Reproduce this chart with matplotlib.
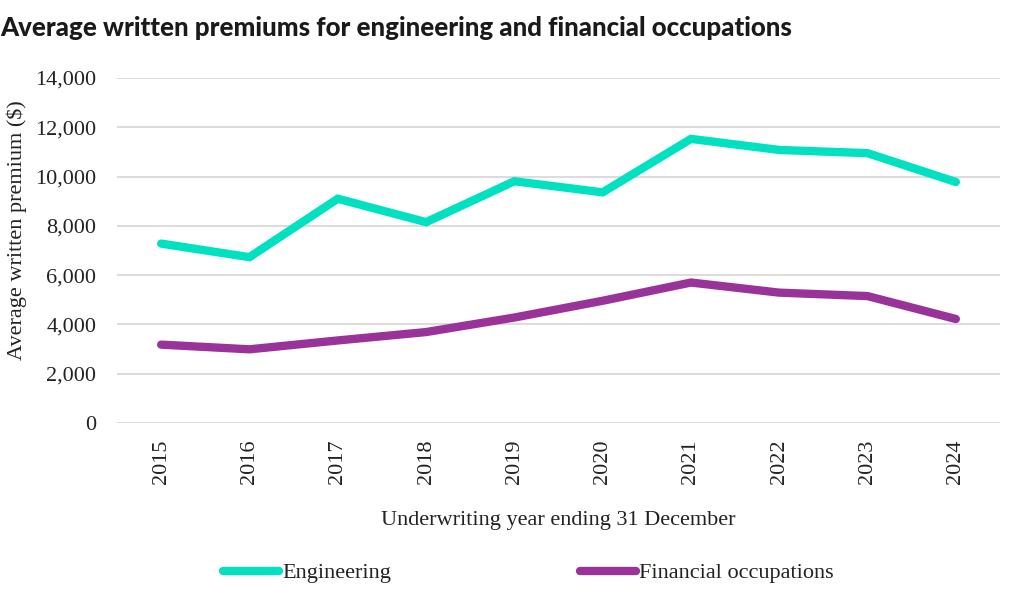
import matplotlib.pyplot as plt
from matplotlib.ticker import FuncFormatter

years = ['2015', '2016', '2017', '2018', '2019', '2020', '2021', '2022', '2023', '2024']
engineering = [7280, 6730, 9100, 8150, 9810, 9360, 11530, 11080, 10950, 9780]
financial = [3180, 2990, 3350, 3690, 4280, 4960, 5700, 5290, 5150, 4220]

teal = '#00e1c1'
purple = '#993399'
serif = ['Liberation Serif', 'DejaVu Serif']

fig = plt.figure(figsize=(10.24, 5.91), dpi=100)
ax = fig.add_axes([117 / 1024, 1 - 423 / 591, 883 / 1024, 345 / 591])

x = range(len(years))
ax.plot(x, engineering, color=teal, lw=6, solid_capstyle='round', solid_joinstyle='miter', label='Engineering')
ax.plot(x, financial, color=purple, lw=6, solid_capstyle='round', solid_joinstyle='miter', label='Financial occupations')

ax.set_xlim(-0.5, len(years) - 0.5)
ax.set_ylim(0, 14000)
ax.set_yticks(range(0, 14001, 2000))
ax.yaxis.set_major_formatter(FuncFormatter(lambda v, p: f'{int(v):,}'))
ax.set_xticks(list(x))
ax.set_xticklabels(years, rotation=90)
ax.grid(axis='y', color='#dcd8da', lw=1.3)
ax.set_axisbelow(True)
for s in ax.spines.values():
    s.set_visible(False)
ax.tick_params(length=0, labelsize=16, colors='#222222')
ax.tick_params(axis='y', pad=15)
ax.tick_params(axis='x', pad=12)
for lab in ax.get_xticklabels() + ax.get_yticklabels():
    lab.set_family(serif)

ax.set_xlabel('Underwriting year ending 31 December', family=serif, fontsize=16, color='#222222', labelpad=19)
ax.set_ylabel('Average written premium ($)', family=serif, fontsize=16, color='#222222')
ax.yaxis.set_label_coords(-0.102, 0.56)

fig.text(0.0, 1 - 28 / 591, 'Average written premiums for engineering and financial occupations',
         family=['Lato', 'DejaVu Sans'], fontweight='black', fontsize=18.6, color='#1a1a1a', va='center')

leg = fig.legend(loc='center', bbox_to_anchor=(0.516, 1 - 573 / 591), ncol=2, frameon=False,
                 prop={'family': serif, 'size': 16}, handlelength=2.5, handletextpad=0.15, columnspacing=8.5)
for t in leg.get_texts():
    t.set_color('#222222')

fig.savefig('out.png', dpi=100)
